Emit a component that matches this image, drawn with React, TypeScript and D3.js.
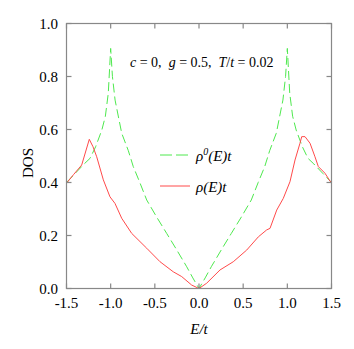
import React, { useMemo } from "react";
import * as d3 from "d3";

const W = 354;
const H = 349;
const M = { left: 66.5, right: 22.5, top: 23.5, bottom: 60.5 };

// free DOS rho0(E)t
const rho0E = [-1.5, -1.4, -1.3, -1.234, -1.17, -1.1, -1.06, -1.027, -1.0, -0.98, -0.95, -0.875, -0.8, -0.744, -0.67, -0.592, -0.48, -0.366, -0.26, -0.139, -0.07, 0,
  0.07, 0.139, 0.26, 0.366, 0.48, 0.592, 0.67, 0.744, 0.8, 0.875, 0.95, 0.98, 1.0, 1.027, 1.06, 1.1, 1.17, 1.234, 1.3, 1.4, 1.5];
const rho0V = [0.4, 0.435, 0.47, 0.491, 0.535, 0.598, 0.65, 0.737, 0.906, 0.8, 0.711, 0.586, 0.52, 0.46, 0.4, 0.334, 0.27, 0.208, 0.15, 0.082, 0.04, 0,
  0.04, 0.082, 0.15, 0.208, 0.27, 0.334, 0.4, 0.46, 0.52, 0.586, 0.711, 0.8, 0.906, 0.737, 0.65, 0.598, 0.535, 0.491, 0.47, 0.435, 0.4];

// interacting DOS rho(E)t
const rhoE = [-1.5, -1.42, -1.328, -1.242, -1.2, -1.158, -1.083, -1.008, -0.951, -0.875, -0.762, -0.592, -0.441, -0.291, -0.196, -0.083, 0,
  0.087, 0.238, 0.388, 0.54, 0.672, 0.766, 0.804, 0.88, 0.954, 1.03, 1.087, 1.143, 1.163, 1.2, 1.257, 1.313, 1.351, 1.426, 1.5];
const rhoV = [0.397, 0.43, 0.466, 0.563, 0.535, 0.497, 0.41, 0.346, 0.321, 0.265, 0.208, 0.152, 0.101, 0.063, 0.045, 0.013, 0,
  0.02, 0.07, 0.101, 0.145, 0.195, 0.221, 0.227, 0.296, 0.34, 0.403, 0.485, 0.548, 0.573, 0.573, 0.548, 0.497, 0.46, 0.435, 0.397];

const xTicks = [-1.5, -1.0, -0.5, 0.0, 0.5, 1.0, 1.5];
const yTicks = [0.0, 0.2, 0.4, 0.6, 0.8, 1.0];

const GREEN = "#4ee84e";
const RED = "#ff4a4a";
const FONT = "Liberation Serif, DejaVu Serif, serif";

export default function App() {
  const x = d3.scaleLinear().domain([-1.5, 1.5]).range([M.left, W - M.right]);
  const y = d3.scaleLinear().domain([0, 1]).range([H - M.bottom, M.top]);

  const line = useMemo(
    () => d3.line<[number, number]>().x((d) => x(d[0])).y((d) => y(d[1])),
    []
  );
  const g0 = line(rho0E.map((e, i) => [e, rho0V[i]]));
  const g1 = line(rhoE.map((e, i) => [e, rhoV[i]]));

  const x0 = M.left, x1 = W - M.right, y0 = M.top, y1 = H - M.bottom;
  const tk = 5;

  return (
    <svg width={W} height={H} style={{ position: "absolute", left: 0, top: 0 }}>
      <rect width={W} height={H} fill="white" />
      <defs>
        <clipPath id="plot">
          <rect x={x0} y={y0} width={x1 - x0} height={y1 - y0} />
        </clipPath>
      </defs>
      <g clipPath="url(#plot)" fill="none" strokeWidth={1}>
        <path d={g0 ?? ""} stroke={GREEN} strokeDasharray="9,4" />
        <path d={g1 ?? ""} stroke={RED} />
      </g>
      <g stroke="#888" strokeWidth={1.2} fill="none">
        <rect x={x0} y={y0} width={x1 - x0} height={y1 - y0} />
        {xTicks.map((t) => (
          <g key={"x" + t}>
            <line x1={x(t)} x2={x(t)} y1={y1} y2={y1 - tk} />
            <line x1={x(t)} x2={x(t)} y1={y0} y2={y0 + tk} />
          </g>
        ))}
        {yTicks.map((t) => (
          <g key={"y" + t}>
            <line x1={x0} x2={x0 + tk} y1={y(t)} y2={y(t)} />
            <line x1={x1} x2={x1 - tk} y1={y(t)} y2={y(t)} />
          </g>
        ))}
      </g>
      <g style={{ fontFamily: FONT, fontSize: "15px" }} fill="#000">
        {xTicks.map((t) => (
          <text key={"xl" + t} x={x(t)} y={308} textAnchor="middle">
            {t.toFixed(1)}
          </text>
        ))}
        {yTicks.map((t) => (
          <text key={"yl" + t} x={58} y={y(t) + 5} textAnchor="end">
            {t.toFixed(1)}
          </text>
        ))}
        <text x={199} y={334} textAnchor="middle" fontStyle="italic">E/t</text>
        <text transform="translate(33,163) rotate(-90)" textAnchor="middle">DOS</text>
        <text x={130} y={67} style={{ fontSize: "14px" }}>
          <tspan fontStyle="italic">c</tspan> = 0,{"\u00a0\u00a0"}
          <tspan fontStyle="italic">g</tspan> = 0.5,{"\u00a0\u00a0"}
          <tspan fontStyle="italic">T</tspan>/<tspan fontStyle="italic">t</tspan> = 0.02
        </text>
        <line x1={160} x2={190} y1={155} y2={155} stroke={GREEN} strokeDasharray="12,4" />
        <text x={196} y={161} fontStyle="italic">
          ρ<tspan dy={-6} style={{ fontSize: "10px" }}>0</tspan><tspan dy={6}>(E)t</tspan>
        </text>
        <line x1={160} x2={190} y1={186} y2={186} stroke={RED} />
        <text x={196} y={192} fontStyle="italic">ρ(E)t</text>
      </g>
    </svg>
  );
}
